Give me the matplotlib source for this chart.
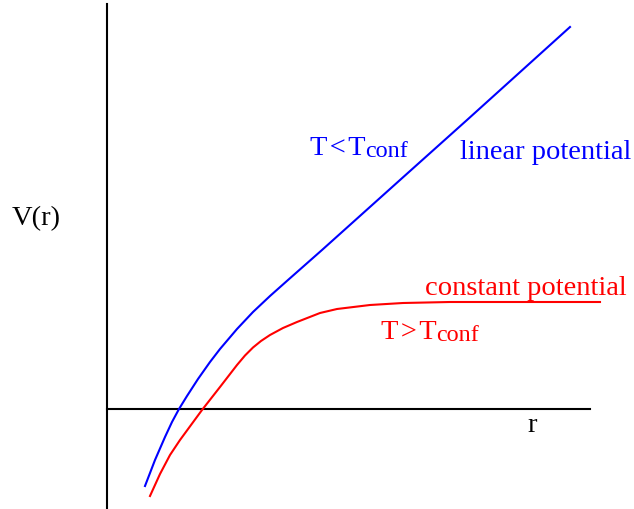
import matplotlib
matplotlib.use("Agg")
import matplotlib.pyplot as plt

plt.rcParams['font.family'] = ['Liberation Serif', 'DejaVu Serif']

# potential below the deconfinement temperature: rises linearly at large r
r_below = [0.38, 0.48, 0.58, 0.65, 0.72, 0.80, 0.91, 1.03, 1.13, 1.30, 1.46,
           1.63, 1.81, 2.15, 2.93, 3.60, 4.63]
v_below = [-0.77, -0.51, -0.28, -0.13, 0.00, 0.13, 0.30, 0.47, 0.60, 0.80, 0.97,
           1.13, 1.29, 1.59, 2.29, 2.89, 3.82]

# potential above the deconfinement temperature: saturates to a constant
r_above = [0.43, 0.53, 0.63, 0.73, 0.84, 0.95, 1.13, 1.30, 1.38, 1.46, 1.54,
           1.63, 1.76, 1.90, 2.13, 2.30, 2.63, 2.96, 3.43, 4.93]
v_above = [-0.87, -0.65, -0.46, -0.31, -0.16, -0.01, 0.22, 0.44, 0.535, 0.615, 0.68,
           0.74, 0.81, 0.87, 0.96, 1.00, 1.04, 1.06, 1.07, 1.07]

fig = plt.figure(figsize=(6.34, 5.10), dpi=100)
ax = fig.add_axes([0, 0, 1, 1])
ax.set_xlim(-1.07, 5.27)
ax.set_ylim(-1.00, 4.10)
ax.axis('off')

# axes drawn by hand
ax.plot([0, 0], [-1.0, 4.05], color='black', lw=1.5)
ax.plot([0, 4.83], [0, 0], color='black', lw=1.5)

ax.plot(r_below, v_below, color='#0000ff', lw=1.5, solid_joinstyle='round')
ax.plot(r_above, v_above, color='#ff0000', lw=1.5, solid_joinstyle='round')

fs = 20.5
fs_sub = 17.4
ax.text(-0.95, 1.85, 'V(r)', fontsize=fs, color='black')
ax.text(4.20, -0.22, 'r', fontsize=fs, color='black')
ax.text(3.53, 2.51, 'linear potential', fontsize=fs, color='#0000ff')
ax.text(3.18, 1.15, 'constant potential', fontsize=fs, color='#ff0000')

# T_conf labels: main text plus a separately sized subscript
labels = [(2.03, 2.55, 'T\u200a<\u200aT', '#0000ff'),
          (2.74, 0.71, 'T\u200a>\u200aT', '#ff0000')]
mains = [ax.text(x, y, s, fontsize=fs, color=c) for x, y, s, c in labels]
fig.canvas.draw()
inv = ax.transData.inverted()
for t, (x, y, s, c) in zip(mains, labels):
    x1 = inv.transform((t.get_window_extent().x1, 0))[0]
    ax.text(x1, y - 0.02, 'conf', fontsize=fs_sub, color=c)

fig.savefig('out.png', dpi=100)
